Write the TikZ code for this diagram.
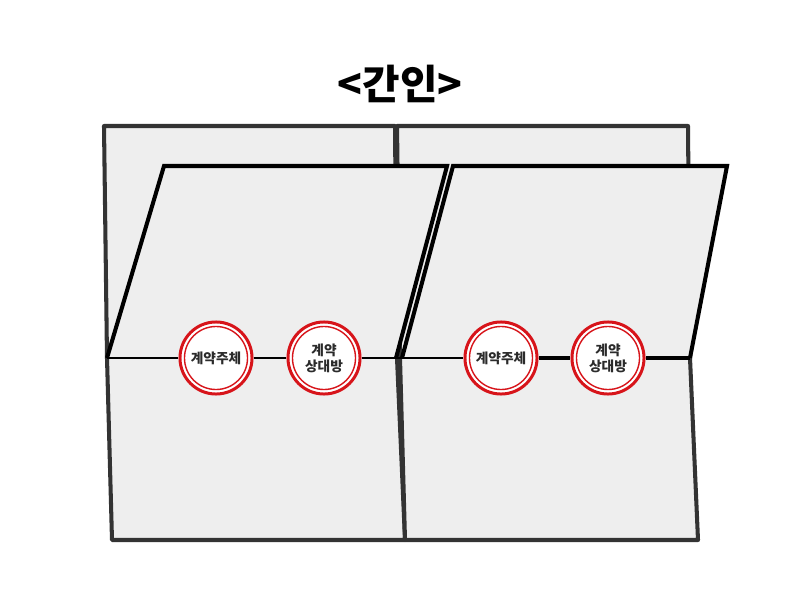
\documentclass[tikz,border=0pt]{standalone}
\usepackage{fontspec}
\newfontfamily\kr{Noto Sans CJK KR}
\usetikzlibrary{positioning}
\definecolor{sheetgray}{HTML}{333333}
\definecolor{paperbg}{HTML}{EEEEEE}
\definecolor{sealred}{HTML}{D7141A}
\definecolor{inkx}{HTML}{2B2B2B}
\tikzset{
  sheet/.style={draw=sheetgray,line width=1.15pt,fill=paperbg,line join=round},
  flap/.style={draw=black,line width=1.15pt,line join=miter},
  seam/.style={draw=black,line width=0.6pt},
  seamthick/.style={draw=black,line width=1.1pt},
  seal/.style={circle,draw=sealred,line width=0.85pt,fill=white,minimum size=0.72cm,inner sep=0pt,
    align=center,text=inkx,font=\kr\bfseries\fontsize{3.9}{4.6}\selectfont},
  sealring/.style={draw=sealred,line width=0.4pt}
}
\begin{document}
\begin{tikzpicture}[x=0.01cm,y=-0.01cm]
\useasboundingbox (0,0) rectangle (800,600);
% back sheets
\draw[sheet] (104,126) -- (395,126) -- (397,358) -- (405,540) -- (112,540) -- (107,358) -- cycle;
\draw[sheet] (397,126) -- (688,126) -- (690,358) -- (698,540) -- (405,540) -- (400,358) -- cycle;
% folded pages
\fill[paperbg] (107,358) -- (164,166) -- (447,166) -- (396,358) -- cycle;
\fill[paperbg] (402,358) -- (453,166) -- (727,166) -- (690,358) -- cycle;
\draw[flap] (107,358) -- (164,166) -- (447,166) -- (396,358);
\draw[flap] (402,358) -- (453,166) -- (727,166) -- (690,358);
% seam line and seals
\coordinate (seamL) at (107,358);
\coordinate (seamM) at (399,358);
\coordinate (seamR) at (690,358);
\node[seal] (s1) at (216,358) {계약주체};
\node[seal] (s2) at (324,358) {계약\\상대방};
\node[seal] (s3) at (501,358) {계약주체};
\node[seal] (s4) at (608,358) {계약\\상대방};
\draw[seam] (seamL) -- (s1) (s1) -- (s2) (s2) -- (seamM) -- (s3);
\draw[seamthick] (s3) -- (s4) (s4) -- (seamR);
\foreach \s in {s1,s2,s3,s4}{\draw[sealring] (\s.center) circle (0.315cm);}
% title
\node[font=\kr\bfseries\fontsize{11.6}{13}\selectfont] (title) at (400,84) {<간인>};
\end{tikzpicture}
\end{document}
